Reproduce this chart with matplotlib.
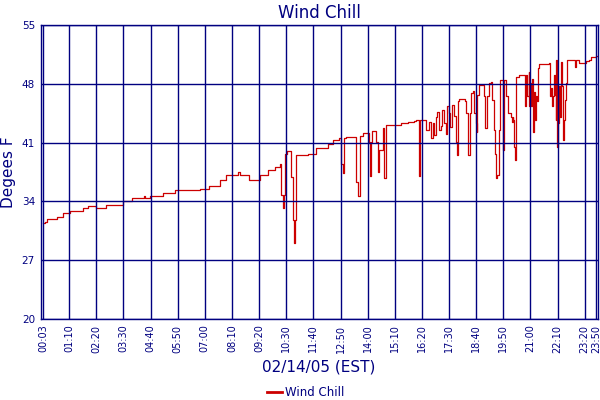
import matplotlib
matplotlib.use("Agg")
import matplotlib.pyplot as plt
import numpy as np

# Wind chill readings: minutes after midnight, degrees F (held until next reading)
minutes = [
    3, 8, 14, 38, 55, 72, 106, 119, 140, 166, 209, 231, 262, 265, 278, 312, 342,
    407, 432, 458, 475, 505, 510, 534, 561, 582, 600, 613, 617, 621, 624, 628,
    631, 643, 647, 649, 652, 654, 685, 707, 737, 750, 767, 771, 776, 780, 784,
    810, 814, 819, 828, 843, 846, 849, 851, 862, 866, 870, 879, 881, 883, 887,
    926, 943, 960, 965, 972, 973, 976, 990, 999, 1003, 1008, 1012, 1016, 1020,
    1025, 1029, 1033, 1038, 1042, 1046, 1050, 1052, 1057, 1062, 1068, 1070,
    1072, 1076, 1092, 1093, 1098, 1100, 1104, 1106, 1111, 1115, 1119, 1121,
    1123, 1128, 1141, 1143, 1147, 1153, 1159, 1162, 1166, 1168, 1171, 1175,
    1178, 1181, 1188, 1190, 1192, 1196, 1203, 1209, 1212, 1214, 1216, 1218,
    1220, 1222, 1231, 1245, 1248, 1250, 1255, 1256, 1259, 1261, 1263, 1265,
    1267, 1269, 1272, 1274, 1278, 1280, 1282, 1308, 1310, 1312, 1315, 1318,
    1321, 1323, 1325, 1327, 1329, 1330, 1334, 1335, 1338, 1341, 1344, 1347,
    1349, 1353, 1355, 1372, 1375, 1378, 1385, 1404, 1411, 1415, 1428, 1432,
]
wind_chill = [
    31.4, 31.6, 31.9, 32.2, 32.6, 32.9, 33.2, 33.45, 33.2, 33.6, 34.1, 34.4, 34.7, 34.4, 34.65, 35.0, 35.35,
    35.45, 35.85, 36.5, 37.2, 37.45, 37.2, 36.6, 37.2, 37.75, 38.1, 38.5, 34.8, 33.2, 34.8, 39.7,
    40.0, 36.9, 31.8, 29.0, 31.8, 39.5, 39.7, 40.3, 40.8, 41.3, 41.6, 38.5, 37.4, 41.6, 41.7,
    36.3, 34.6, 41.8, 42.2, 41.1, 37.0, 41.1, 42.4, 41.1, 37.5, 40.1, 42.7, 41.5, 36.75, 43.1,
    43.3, 43.5, 43.6, 43.75, 39.7, 37.0, 43.75, 42.5, 43.5, 41.5, 43.3, 41.9, 44.1, 44.7,
    42.5, 43.0, 44.9, 43.3, 42.0, 45.3, 44.5, 42.9, 45.5, 44.2, 41.1, 39.5,
    45.9, 46.15, 45.9, 44.5, 41.3, 39.5, 44.5, 46.9, 47.1, 44.5, 43.3, 42.3,
    46.7, 47.9, 46.5, 42.7, 46.5, 48.05, 48.2, 46.1, 42.5, 39.7, 36.75, 37.2,
    42.5, 48.45, 46.5, 40.1, 48.45, 46.5, 44.5, 44.1, 43.5, 44.1, 43.7, 40.5,
    38.9, 48.8, 49.05, 45.3, 49.05, 46.5, 49.45, 45.3, 48.1, 45.3, 47.0, 48.6,
    42.3, 47.0, 43.7, 46.5, 45.9, 49.85, 50.35, 50.45, 46.5, 47.5, 45.3, 46.5,
    49.05, 46.7, 43.7, 50.8, 40.5, 43.3, 47.7, 44.1, 50.6, 47.7, 41.3, 43.7,
    46.1, 48.1, 50.85, 50.85, 50.05, 50.85, 50.5, 50.75, 50.85, 51.15, 51.3, 51.35,
]

tick_minutes = [3] + list(range(70, 1401, 70)) + [1430]
tick_labels = ["%02d:%02d" % (m // 60, m % 60) for m in tick_minutes]
y_ticks = [20, 27, 34, 41, 48, 55]

navy = "#000080"

fig = plt.figure(figsize=(6, 4), dpi=100)
ax = fig.add_axes([40.5 / 600, 1 - 319 / 400, 557 / 600, 294 / 400])

ax.plot(minutes, wind_chill, color="#cc0000", linewidth=0.9,
        drawstyle="steps-post", label="Wind Chill", zorder=2)

ax.set_xlim(-4, 1433)
ax.set_ylim(20, 55)
ax.set_xticks(tick_minutes)
ax.set_xticklabels(tick_labels, rotation=90, fontsize=7, color=navy)
ax.set_yticks(y_ticks)
ax.set_yticklabels([str(v) for v in y_ticks], fontsize=7.5, color=navy)
ax.tick_params(length=0, pad=4)

ax.grid(True, color=navy, linewidth=1.0, zorder=3)
ax.set_axisbelow(False)
for s in ax.spines.values():
    s.set_color(navy)
    s.set_linewidth(1.0)

ax.set_title("Wind Chill", color=navy, fontsize=12, pad=5)
ax.set_ylabel("Degees F", color=navy, fontsize=11, labelpad=4)
ax.set_xlabel("02/14/05 (EST)", color=navy, fontsize=11, labelpad=5)

leg = fig.legend(loc="lower center", bbox_to_anchor=(0.51, -0.025), frameon=False,
                 fontsize=8.5, handlelength=1.2, handletextpad=0.3)
for t in leg.get_texts():
    t.set_color(navy)
for h in leg.legend_handles:
    h.set_linewidth(2)

fig.savefig("out.png", dpi=100)
